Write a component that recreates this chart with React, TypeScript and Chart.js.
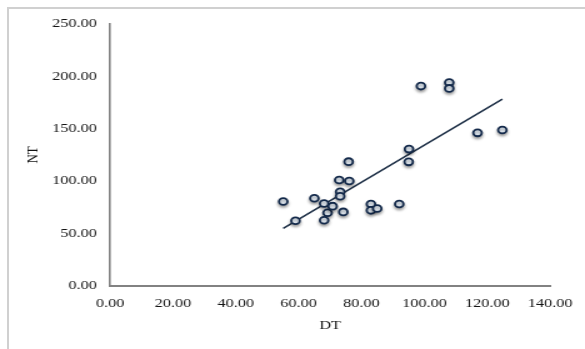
import React, { useEffect, useRef } from "react";
import { Chart, registerables } from "chart.js";

Chart.register(...registerables);

// DT (x) values and NT (y) values
const dtValues = [
  55.1, 59.0, 65.0, 68.1, 69.2, 68.1, 70.8, 74.2, 73.2, 73.2, 72.9, 76.1,
  75.9, 83.0, 83.0, 85.0, 92.0, 95.0, 95.1, 98.9, 107.9, 107.9, 116.9, 124.8,
];
const ntValues = [
  80.5, 62.1, 83.5, 78.5, 69.7, 62.5, 76.0, 70.5, 89.8, 85.5, 101.0, 100.0,
  118.5, 78.0, 72.0, 73.7, 78.0, 118.3, 130.5, 190.7, 194.0, 188.5, 146.0, 148.7,
];
const xTicks = [0, 20, 40, 60, 80, 100, 120, 140];
const yTicks = [0, 50, 100, 150, 200, 250];
const xTitle = "DT";
const yTitle = "NT";

// CSS size of the picture and the internal drawing width (the original is stretched horizontally)
const CSS_W = 585;
const CSS_H = 349;
const INT_W = 468;

function linearFit(xs: number[], ys: number[]) {
  const n = xs.length;
  const mx = xs.reduce((a, b) => a + b, 0) / n;
  const my = ys.reduce((a, b) => a + b, 0) / n;
  let sxx = 0;
  let sxy = 0;
  for (let i = 0; i < n; i++) {
    sxx += (xs[i] - mx) * (xs[i] - mx);
    sxy += (xs[i] - mx) * (ys[i] - my);
  }
  const slope = sxy / sxx;
  return { slope, intercept: my - slope * mx };
}

export default function App() {
  const ref = useRef<HTMLCanvasElement | null>(null);

  useEffect(() => {
    if (!ref.current) return;
    const pts = dtValues.map((x, i) => ({ x, y: ntValues[i] }));
    const { slope, intercept } = linearFit(dtValues, ntValues);
    const xMin = Math.min(...dtValues);
    const xMax = Math.max(...dtValues);
    const trend = [
      { x: xMin, y: intercept + slope * xMin },
      { x: xMax, y: intercept + slope * xMax },
    ];

    const font = { family: "'Liberation Serif', 'Times New Roman', serif", size: 13 };
    const textColor = "#141414";

    const shadowPlugin = {
      id: "pointShadow",
      beforeDatasetDraw(chart: any, args: any) {
        if (args.index !== 0) return;
        const ctx = chart.ctx;
        ctx.save();
        ctx.shadowColor = "rgba(0,0,0,0.35)";
        ctx.shadowBlur = 3;
        ctx.shadowOffsetY = 2;
      },
      afterDatasetDraw(chart: any, args: any) {
        if (args.index !== 0) return;
        chart.ctx.restore();
      },
    };

    const chart = new Chart(ref.current, {
      type: "scatter",
      data: {
        datasets: [
          {
            type: "scatter",
            label: "NT",
            data: pts,
            pointRadius: 3.4,
            pointHoverRadius: 3.4,
            pointBorderWidth: 1.8,
            borderColor: "#13294a",
            backgroundColor: "#eaf2fb",
            order: 1,
          },
          {
            type: "line",
            label: "Trend",
            data: trend,
            borderColor: "#1c2e45",
            borderWidth: 1.5,
            pointRadius: 0,
            fill: false,
            order: 2,
          } as any,
        ],
      },
      options: {
        responsive: false,
        animation: false,
        events: [],
        layout: { padding: { left: 0, right: INT_W - 440.8, top: 24, bottom: 0 } },
        plugins: { legend: { display: false }, tooltip: { enabled: false } },
        scales: {
          x: {
            type: "linear",
            min: 0,
            max: 140,
            afterBuildTicks: (s: any) => {
              s.ticks = xTicks.map((v) => ({ value: v }));
            },
            afterFit: (s: any) => {
              s.height = CSS_H - 285.7;
            },
            grid: { display: false, drawTicks: false },
            border: { display: true, color: "#828282", width: 2 },
            ticks: {
              color: textColor,
              font,
              padding: 10,
              maxRotation: 0,
              autoSkip: false,
              callback: (v: any) => Number(v).toFixed(2),
            },
            title: {
              display: true,
              text: xTitle,
              color: textColor,
              font,
              padding: { top: 0, bottom: 16 },
            },
          },
          y: {
            type: "linear",
            min: 0,
            max: 250,
            afterBuildTicks: (s: any) => {
              s.ticks = yTicks.map((v) => ({ value: v }));
            },
            afterFit: (s: any) => {
              s.width = 88;
            },
            grid: { display: false, drawTicks: false },
            border: { display: true, color: "#828282", width: 1.6 },
            ticks: {
              color: textColor,
              font,
              padding: 10.5,
              autoSkip: false,
              callback: (v: any) => Number(v).toFixed(2),
            },
            title: {
              display: true,
              text: yTitle,
              color: textColor,
              font,
              padding: { top: 18.6, bottom: 0 },
            },
          },
        },
      },
      plugins: [shadowPlugin],
    });
    return () => chart.destroy();
  }, []);

  return (
    <div
      style={{
        position: "fixed",
        left: 0,
        top: 0,
        width: CSS_W,
        height: CSS_H,
        background: "#ffffff",
        overflow: "hidden",
      }}
    >
      <canvas
        ref={ref}
        width={INT_W}
        height={CSS_H}
        style={{ width: CSS_W + "px", height: CSS_H + "px", display: "block" }}
      />
      <div
        style={{
          position: "absolute",
          left: 7,
          top: 7,
          width: CSS_W - 7,
          height: CSS_H - 7,
          borderLeft: "2px solid #d0d0d0",
          borderTop: "2px solid #d0d0d0",
          pointerEvents: "none",
        }}
      />
    </div>
  );
}
